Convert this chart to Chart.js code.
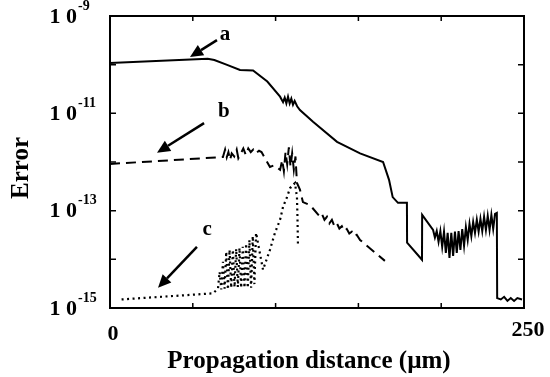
<!DOCTYPE html>
<html>
<head>
<meta charset="utf-8">
<script src="https://cdn.jsdelivr.net/npm/chart.js@4"></script>
<style>
  body { margin: 0; background: #fff; }
</style>
</head>
<body>
<canvas id="errChart" width="550" height="377"></canvas>
<script>
// curve a (solid)
var aX = [0, 59, 63, 70.7, 78.5, 86.4, 95, 102.7, 104.5, 105.5, 106.5, 107.5, 108.5, 109.5, 110.5, 111.5, 113, 114.7, 122.6, 137.1, 151, 164.9, 168.5, 170.7, 173.9, 179.3, 179.4, 188.4, 188.5,
  195.1, 196.2, 197.3, 198.4, 199.5, 200.6, 201.7, 202.8, 203.9, 205.0, 206.1, 207.2, 208.3, 209.4, 210.5, 211.6, 212.7, 213.8, 214.9, 216.0, 217.1, 218.2, 219.3, 220.4, 221.5, 222.6, 223.7, 224.8, 225.9, 227.0, 228.1, 229.2, 230.3, 231.4, 232.5, 233.6,
  233.8, 236, 238, 240, 242, 244, 246, 248.8];
var aY = [1.08e-10, 1.32e-10, 1.25e-10, 9.9e-11, 7.8e-11, 7.6e-11, 4.5e-11, 2.2e-11, 1.7e-11, 2.1e-11, 1.6e-11, 2.2e-11, 1.6e-11, 2.0e-11, 1.5e-11, 1.8e-11, 1.4e-11, 1.17e-11, 6.7e-12, 2.6e-12, 1.5e-12, 1.0e-12, 4.3e-13, 1.9e-13, 1.45e-13, 1.45e-13, 2.2e-14, 9.8e-15, 8.2e-14,
  4.0e-14, 2.8e-14, 3.8e-14, 2.3e-14, 3.8e-14, 1.8e-14, 3.7e-14, 1.36e-14, 3.5e-14, 1.07e-14, 3.5e-14, 1.18e-14, 3.7e-14, 1.36e-14, 3.8e-14, 1.57e-14, 4.2e-14, 1.9e-14, 4.6e-14, 2.5e-14, 5.4e-14, 3.0e-14, 5.9e-14, 3.5e-14, 6.5e-14, 3.7e-14, 6.8e-14, 3.8e-14, 7.5e-14, 4.0e-14, 7.8e-14, 4.0e-14, 8.2e-14, 4.2e-14, 8.6e-14, 9.0e-14,
  1.6e-15, 1.5e-15, 1.7e-15, 1.4e-15, 1.6e-15, 1.4e-15, 1.6e-15, 1.5e-15];

// curve b (dashed)
var bX = [0, 68.2, 69.5, 70.5, 71.5, 72.5, 73.5, 75, 76.5, 77.5, 79, 80.5, 82, 83.5, 85, 86.5, 88, 90, 91.5, 96.6, 99, 102.7, 104, 105, 106, 107, 108, 109, 110, 111, 112, 112.9, 114.7, 116.5, 120.8, 126.8,
  128, 129.5, 131, 132.5, 134, 135.5, 137, 138.5, 140, 141.5, 143, 144.5, 146, 147.5, 149, 151, 166];
var bY = [9.1e-13, 1.27e-12, 1.8e-12, 1.25e-12, 1.6e-12, 1.1e-12, 1.5e-12, 1.3e-12, 1.8e-12, 1.2e-12, 1.5e-12, 1.9e-12, 1.4e-12, 1.9e-12, 1.6e-12, 1.8e-12, 1.5e-12, 1.7e-12, 1.6e-12, 7.9e-13, 8.5e-13, 6.9e-13, 1.1e-12, 6.5e-13, 1.6e-12, 9e-13, 2.0e-12, 8e-13, 1.5e-12, 7e-13, 1.3e-12, 3.7e-13, 2.7e-13, 1.5e-13, 1.3e-13, 7.5e-14,
  8.5e-14, 6.5e-14, 7.5e-14, 5.5e-14, 6.5e-14, 4.8e-14, 5.5e-14, 4.3e-14, 4.8e-14, 3.8e-14, 4.2e-14, 3.4e-14, 3.7e-14, 3.0e-14, 3.2e-14, 2.5e-14, 9.3e-15];

// curve c (dotted)
var cX = [7, 62.2, 65.2, 66.2, 67.2, 68.2, 69.2, 70.2, 71.2, 72.2, 73.2, 74.2, 75.2, 76.2, 77.2, 78.2, 79.2, 80.2, 81.2, 82.2, 83.2, 84.2, 85.2, 86.2, 87.2, 88.2,
  92.4, 96.6, 99.6, 102.7, 104.5, 106.9, 108.7, 111.7, 112.9, 113.2, 113.5];
var cY = [1.5e-15, 2.0e-15, 2.5e-15, 5.5e-15, 2.4e-15, 8.9e-15, 2.5e-15, 1.43e-14, 2.4e-15, 1.57e-14, 2.6e-15, 1.57e-14, 2.7e-15, 1.64e-14, 2.7e-15, 1.72e-14, 2.6e-15, 1.8e-14, 2.6e-15, 2.1e-14, 2.6e-15, 2.5e-14, 2.6e-15, 3.0e-14, 3.1e-15, 3.5e-14,
  6.1e-15, 1.57e-14, 3.5e-14, 6.5e-14, 1.2e-13, 1.9e-13, 2.9e-13, 3.7e-13, 1.9e-13, 7.5e-14, 2.0e-14];

var xTicks = [0, 50, 100, 150, 200, 250];
var yDecades = [-15, -14, -13, -12, -11, -10, -9];
var yLabelExp = [-9, -11, -13, -15];

function pts(xs, ys) {
    return xs.map(function (x, i) { return { x: x, y: ys[i] }; });
}

var SERIF = '"Liberation Serif", "DejaVu Serif", serif';

// arrows: [label, labelX, labelY, tailX, tailY, headX, headY] in data units
var arrows = [
    ['a', 69.4, 4.1e-10, 64.6, 3.2e-10, 48.3, 1.44e-10],
    ['b', 68.8, 1.07e-11, 56.8, 6.3e-12, 28.4, 1.55e-12],
    ['c', 58.6, 4.0e-14, 52.5, 1.8e-14, 29.0, 2.6e-15]
];

var decorPlugin = {
    id: 'decor',
    afterDraw: function (chart) {
        var ctx = chart.ctx;
        var area = chart.chartArea;
        var xs = chart.scales.x;
        var ys = chart.scales.y;
        ctx.save();
        ctx.strokeStyle = '#000';
        ctx.fillStyle = '#000';

        // frame
        ctx.lineWidth = 2;
        ctx.strokeRect(area.left, area.top, area.right - area.left, area.bottom - area.top);

        // inward ticks
        ctx.lineWidth = 1.5;
        xTicks.forEach(function (v) {
            var px = xs.getPixelForValue(v);
            ctx.beginPath();
            ctx.moveTo(px, area.bottom); ctx.lineTo(px, area.bottom - 5);
            ctx.moveTo(px, area.top); ctx.lineTo(px, area.top + 5);
            ctx.stroke();
        });
        yDecades.forEach(function (e) {
            var py = ys.getPixelForValue(Math.pow(10, e));
            ctx.beginPath();
            ctx.moveTo(area.left, py); ctx.lineTo(area.left + 6, py);
            ctx.moveTo(area.right, py); ctx.lineTo(area.right - 6, py);
            ctx.stroke();
        });

        // y tick labels 10^e
        yLabelExp.forEach(function (e) {
            var py = ys.getPixelForValue(Math.pow(10, e));
            ctx.font = 'bold 22px ' + SERIF;
            ctx.textAlign = 'right';
            ctx.textBaseline = 'middle';
            ctx.fillText('1 0', 77, py + 1);
            ctx.font = 'bold 14px ' + SERIF;
            ctx.textAlign = 'left';
            ctx.fillText(String(e), 78, py - 10);
        });

        // x tick labels
        ctx.font = 'bold 22px ' + SERIF;
        ctx.textAlign = 'center';
        ctx.textBaseline = 'middle';
        ctx.fillText('0', xs.getPixelForValue(0) + 3, 334);
        ctx.fillText('250', xs.getPixelForValue(250) + 4, 330);

        // axis titles
        ctx.font = 'bold 25px ' + SERIF;
        ctx.fillText('Propagation distance (\u00b5m)', 309, 362);
        ctx.save();
        ctx.translate(22, 168);
        ctx.rotate(-Math.PI / 2);
        ctx.fillText('Error', 0, 0);
        ctx.restore();

        // arrows with letters
        arrows.forEach(function (a) {
            var lx = xs.getPixelForValue(a[1]), ly = ys.getPixelForValue(a[2]);
            var tx = xs.getPixelForValue(a[3]), ty = ys.getPixelForValue(a[4]);
            var hx = xs.getPixelForValue(a[5]), hy = ys.getPixelForValue(a[6]);
            ctx.font = 'bold 21px ' + SERIF;
            ctx.textAlign = 'center';
            ctx.textBaseline = 'middle';
            ctx.fillText(a[0], lx, ly);
            var ang = Math.atan2(hy - ty, hx - tx);
            var len = 13, wid = 6;
            var bx = hx - len * Math.cos(ang), by = hy - len * Math.sin(ang);
            ctx.lineWidth = 2.5;
            ctx.beginPath();
            ctx.moveTo(tx, ty); ctx.lineTo(bx, by);
            ctx.stroke();
            ctx.beginPath();
            ctx.moveTo(hx, hy);
            ctx.lineTo(bx - wid * Math.sin(ang), by + wid * Math.cos(ang));
            ctx.lineTo(bx + wid * Math.sin(ang), by - wid * Math.cos(ang));
            ctx.closePath();
            ctx.fill();
        });
        ctx.restore();
    }
};

var ctx = document.getElementById('errChart').getContext('2d');
var chart = new Chart(ctx, {
    type: 'line',
    data: {
        datasets: [{
            label: 'a',
            data: pts(aX, aY),
            borderColor: '#000',
            borderWidth: 2
        }, {
            label: 'b',
            data: pts(bX, bY),
            borderColor: '#000',
            borderWidth: 2,
            borderDash: [10, 6]
        }, {
            label: 'c',
            data: pts(cX, cY),
            borderColor: '#000',
            borderWidth: 2.2,
            borderDash: [2, 3.5]
        }]
    },
    options: {
        responsive: false,
        animation: false,
        layout: { padding: { left: 110, top: 16, right: 26, bottom: 69 } },
        elements: {
            point: { radius: 0 },
            line: { tension: 0, fill: false }
        },
        plugins: {
            legend: { display: false },
            tooltip: { enabled: false }
        },
        scales: {
            x: { type: 'linear', min: 0, max: 250, display: false },
            y: { type: 'logarithmic', min: 1e-15, max: 1e-9, display: false }
        }
    },
    plugins: [decorPlugin]
});
</script>
</body>
</html>
